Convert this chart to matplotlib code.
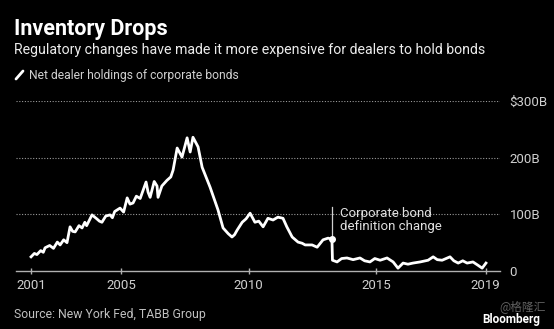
import matplotlib.pyplot as plt
from matplotlib.lines import Line2D

plt.rcParams['font.family'] = ['Roboto', 'DejaVu Sans']

# net dealer holdings of corporate bonds, $ billions
years = [2001.47, 2001.60, 2001.70, 2001.85, 2001.95, 2002.02, 2002.20, 2002.35, 2002.50,
         2002.61, 2002.75, 2002.88, 2003.00, 2003.10, 2003.20, 2003.35, 2003.47, 2003.58,
         2003.65, 2003.86, 2004.05, 2004.15, 2004.25, 2004.40, 2004.57, 2004.66, 2004.75,
         2004.96, 2005.10, 2005.24, 2005.35, 2005.47, 2005.60, 2005.75, 2005.98, 2006.06,
         2006.14, 2006.30, 2006.41, 2006.45, 2006.60, 2006.80, 2006.95, 2007.04, 2007.20,
         2007.39, 2007.59, 2007.71, 2007.82, 2008.02, 2008.18, 2008.49, 2008.80, 2009.00,
         2009.20, 2009.35, 2009.45, 2009.55, 2009.75, 2009.90, 2010.06, 2010.25, 2010.40,
         2010.57, 2010.76, 2010.96, 2011.15, 2011.35, 2011.50, 2011.71, 2011.94, 2012.10,
         2012.22, 2012.49, 2012.69, 2012.92, 2013.12, 2013.27, 2013.29, 2013.47, 2013.65,
         2013.86, 2014.10, 2014.37, 2014.55, 2014.76, 2014.95, 2015.16, 2015.43, 2015.67,
         2015.86, 2016.06, 2016.25, 2016.45, 2016.73, 2017.04, 2017.24, 2017.40, 2017.59,
         2017.90, 2018.05, 2018.22, 2018.40, 2018.57, 2018.80, 2019.00, 2019.16, 2019.31]
holdings = [25, 31, 29, 36, 33, 41, 45, 40, 51,
            46, 55, 50, 78, 70, 69, 80, 76, 86,
            80, 99, 92, 88, 86, 97, 99, 94, 105,
            111, 104, 129, 118, 120, 132, 128, 157, 139,
            130, 158, 150, 130, 150, 160, 166, 178, 217,
            201, 235, 210, 236, 219, 183, 148, 108, 76,
            66, 60, 64, 72, 86, 92, 102, 86, 88,
            78, 93, 90, 95, 93, 78, 60, 51, 49,
            46, 46, 42, 55, 58, 56, 19, 16, 22,
            23, 20, 23, 18, 16, 22, 19, 23, 16,
            5, 14, 12, 14, 16, 19, 25, 20, 19,
            25, 18, 14, 18, 14, 16, 10, 5, 14]

tick_pos = [2001.47, 2005.0, 2010.0, 2015.0, 2019.3]
tick_labels = ['2001', '2005', '2010', '2015', '2019']
y_ticks = [0, 100, 200, 300]
y_labels = ['0', '100B', '200B', '$300B']

fig = plt.figure(figsize=(5.54, 3.29), dpi=100, facecolor='black')
ax = fig.add_axes([16 / 554, 58 / 329, 484 / 554, 170 / 329], facecolor='black')

ax.plot(years, holdings, color='white', lw=2.0, solid_joinstyle='round', zorder=3)

ax.set_xlim(2000.88, 2019.86)
ax.set_ylim(0, 300)

for v in y_ticks[1:]:
    ax.axhline(v, color='#9a9a9a', lw=0.8, ls=(0, (1, 1.5)), zorder=1)

for s in ['top', 'left', 'right']:
    ax.spines[s].set_visible(False)
ax.spines['bottom'].set_color('#b0b0b0')
ax.spines['bottom'].set_linewidth(1.0)

ax.set_xticks(tick_pos)
ax.set_xticklabels(tick_labels)
ax.tick_params(axis='x', colors='#b0b0b0', direction='inout', length=5, width=1,
               labelsize=9.5, labelcolor='#d0d0d0', pad=3)
ax.yaxis.tick_right()
ax.set_yticks(y_ticks)
ax.set_yticklabels(y_labels)
ax.tick_params(axis='y', length=0, pad=7, labelsize=9.5, labelcolor='#d0d0d0')
for lbl in ax.get_yticklabels():
    lbl.set_horizontalalignment('left')

# annotation for definition change
ax.plot([2013.28, 2013.28], [56, 113], color='#d0d0d0', lw=0.9, zorder=2)
ax.plot([2013.28], [56], 'o', color='white', ms=4, zorder=4)
ax.text(2013.6, 113, 'Corporate bond\ndefinition change', color='#e0e0e0',
        fontsize=9.5, va='top', ha='left', linespacing=1.0)

fig.text(14 / 554, 1 - 35 / 329, 'Inventory Drops', color='white', fontsize=15.5,
         fontweight='bold', ha='left', va='baseline')
fig.text(14 / 554, 1 - 54 / 329,
         'Regulatory changes have made it more expensive for dealers to hold bonds',
         color='#ececec', fontsize=10.2, ha='left', va='baseline')
fig.add_artist(Line2D([16 / 554, 23 / 554], [1 - 79 / 329, 1 - 71 / 329],
                      color='white', lw=2, solid_capstyle='round'))
fig.text(29 / 554, 1 - 79 / 329, 'Net dealer holdings of corporate bonds',
         color='#d0d0d0', fontsize=8.7, ha='left', va='baseline')
fig.text(14 / 554, 1 - 318 / 329, 'Source: New York Fed, TABB Group',
         color='#c0c0c0', fontsize=8.8, ha='left', va='baseline')
fig.text(540 / 554, 1 - 323 / 329, 'Bloomberg', color='white', fontsize=8.5,
         fontweight='bold', ha='right', va='baseline')
fig.text(546 / 554, 1 - 310 / 329, '@格隆汇', color='#888888', fontsize=8.5,
         ha='right', va='baseline', alpha=0.7,
         family=['Noto Sans CJK SC', 'DejaVu Sans'])

fig.savefig('out.png', dpi=100, facecolor='black')
